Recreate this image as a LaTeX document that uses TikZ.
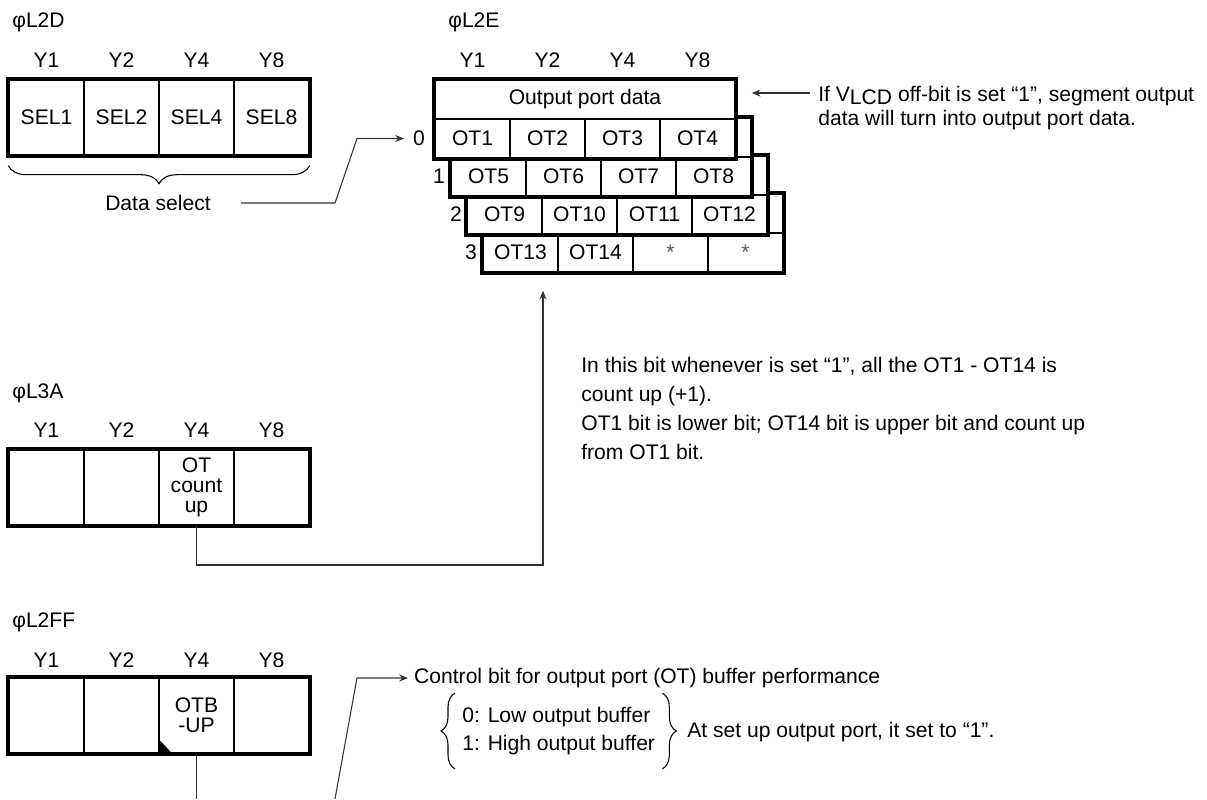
\documentclass[tikz,border=0pt]{standalone}
\usepackage{fontspec}
\setmainfont{Liberation Sans}
\usetikzlibrary{arrows.meta,decorations.pathreplacing}

\begin{document}
\begin{tikzpicture}[
  x=0.02cm,y=-0.02cm,
  >={Stealth[length=5pt,width=4pt]},
  font=\fontsize{12}{14}\selectfont,
  cell/.style={draw,line width=0.8pt,minimum width=1.5cm,minimum height=1.5cm,
    inner sep=0pt,align=center},
  otcell/.style={cell,fill=white,minimum height=0.78cm},
  toprow/.style={otcell,minimum width=6cm},
  frame/.style={line width=2.2pt},
  bitlab/.style={inner sep=0pt},
  regname/.style={anchor=west,inner sep=0pt},
  note/.style={anchor=north west,inner sep=0pt,align=left},
  star/.style={otcell,text=black!65},
  conn/.style={line width=0.6pt,black!80},
  brc/.style={decorate,decoration={brace,amplitude=#1},line width=0.6pt}]

  \useasboundingbox (0,0) rectangle (1207,799);

  % ---- phi L2D : data select ----
  \node[regname] (tld) at (12,22) {φL2D};
  \node[bitlab] (dy1) at (46.5,60) {Y1};
  \node[bitlab] (dy2) at (121.5,60) {Y2};
  \node[bitlab] (dy4) at (196.5,60) {Y4};
  \node[bitlab] (dy8) at (271.5,60) {Y8};
  \node[cell] (d1) at (46.5,117.5) {SEL1};
  \node[cell] (d2) at (121.5,117.5) {SEL2};
  \node[cell] (d3) at (196.5,117.5) {SEL4};
  \node[cell] (d4) at (271.5,117.5) {SEL8};
  \draw[frame] (d1.north west) rectangle (d4.south east);
  \draw[brc=0.36cm,decoration={mirror}] ([yshift=-0.2cm]d1.south west)
    -- ([yshift=-0.2cm]d4.south east);
  \node (dsel) at (158,203) {Data select};

  % ---- phi L2E : output port data, four layers ----
  \node[regname] (tle) at (448,22) {φL2E};
  \node[bitlab] (ey1) at (472.5,60) {Y1};
  \node[bitlab] (ey2) at (547.5,60) {Y2};
  \node[bitlab] (ey4) at (622.5,60) {Y4};
  \node[bitlab] (ey8) at (697.5,60) {Y8};
  % layer 3 (back)
  \node[toprow] (t3) at (633,213.5) {};
  \node[otcell] (ot13) at (520.5,252.5) {OT13};
  \node[otcell] (ot14) at (595.5,252.5) {OT14};
  \node[star] (ot15) at (670.5,252.5) {*};
  \node[star] (ot16) at (745.5,252.5) {*};
  \draw[frame] (t3.north west) rectangle (ot16.south east);
  \node (n3) at (471,252.5) {3};
  % layer 2
  \node[toprow] (t2) at (617,175.5) {};
  \node[otcell] (ot9) at (504.5,214.5) {OT9};
  \node[otcell] (ot10) at (579.5,214.5) {OT10};
  \node[otcell] (ot11) at (654.5,214.5) {OT11};
  \node[otcell] (ot12) at (729.5,214.5) {OT12};
  \draw[frame] (t2.north west) rectangle (ot12.south east);
  \node (n2) at (456,214.5) {2};
  % layer 1
  \node[toprow] (t1) at (601,137.5) {};
  \node[otcell] (ot5) at (488.5,176.5) {OT5};
  \node[otcell] (ot6) at (563.5,176.5) {OT6};
  \node[otcell] (ot7) at (638.5,176.5) {OT7};
  \node[otcell] (ot8) at (713.5,176.5) {OT8};
  \draw[frame] (t1.north west) rectangle (ot8.south east);
  \node (n1) at (439,176.5) {1};
  % layer 0 (front)
  \node[toprow] (opd) at (585,99.5) {Output port data};
  \node[otcell] (ot1) at (472.5,138.5) {OT1};
  \node[otcell] (ot2) at (547.5,138.5) {OT2};
  \node[otcell] (ot3) at (622.5,138.5) {OT3};
  \node[otcell] (ot4) at (697.5,138.5) {OT4};
  \draw[frame] (opd.north west) rectangle (ot4.south east);
  \node[inner sep=5pt] (n0) at (419,138.5) {0};

  % data select -> layer 0
  \coordinate (dsb) at (335,203);
  \coordinate (zb) at (357,138.5);
  \draw[conn,->] ([xshift=0.48cm]dsel.east) -- (dsb) -- (zb) -- (n0);

  % V_LCD note
  \node[note,font=\fontsize{12}{13.6}\selectfont] (vlcd) at (818,86)
    {If V\raisebox{-1.8pt}{LCD} off-bit is set “1”, segment output\\
     data will turn into output port data.};
  \coordinate (vt) at (810,93);
  \draw[conn,->] (vt) -- ([xshift=0.32cm]vt -| opd.east);

  % ---- phi L3A : OT count up ----
  \node[regname] (tla) at (12,393) {φL3A};
  \node[bitlab] (ay1) at (46.5,430) {Y1};
  \node[bitlab] (ay2) at (121.5,430) {Y2};
  \node[bitlab] (ay4) at (196.5,430) {Y4};
  \node[bitlab] (ay8) at (271.5,430) {Y8};
  \node[cell] (a1) at (46.5,487.5) {};
  \node[cell] (a2) at (121.5,487.5) {};
  \node[cell,font=\fontsize{12}{11.4}\selectfont] (a3) at (196.5,487.5) {OT\\count\\up};
  \node[cell] (a4) at (271.5,487.5) {};
  \draw[frame] (a1.north west) rectangle (a4.south east);

  \coordinate (cu) at (543,565);
  \draw[conn,->] (a3.south) |- (cu) -- ([yshift=-0.36cm]cu |- ot13.south);
  \node[note,font=\fontsize{12}{16.5}\selectfont] (cnote) at (581,357)
    {In this bit whenever is set “1”, all the OT1 - OT14 is\\
     count up (+1).\\
     OT1 bit is lower bit; OT14 bit is upper bit and count up\\
     from OT1 bit.};

  % ---- phi L2FF : OT buffer ----
  \node[regname] (tlf) at (12,622) {φL2FF};
  \node[bitlab] (fy1) at (46.5,660) {Y1};
  \node[bitlab] (fy2) at (121.5,660) {Y2};
  \node[bitlab] (fy4) at (196.5,660) {Y4};
  \node[bitlab] (fy8) at (271.5,660) {Y8};
  \node[cell] (f1) at (46.5,715.5) {};
  \node[cell] (f2) at (121.5,715.5) {};
  \node[cell,font=\fontsize{12}{11.4}\selectfont] (f3) at (196.5,715.5) {OTB\\-UP};
  \node[cell] (f4) at (271.5,715.5) {};
  \draw[frame] (f1.north west) rectangle (f4.south east);
  \fill (f3.south west) -- ++(0,-15) -- ++(14,15) -- cycle;

  \node[anchor=west] (ctrl) at (408,678)
    {Control bit for output port (OT) buffer performance};
  \coordinate (ffb) at (335,799);
  \coordinate (ffk) at (357,678);
  \draw[conn] (f3.south) -- (f3.south |- ffb);
  \draw[conn,->] (ffb) -- (ffk) -- (ctrl.west);

  \node[anchor=west,align=left,inner sep=4pt,minimum height=1.5cm,
    font=\fontsize{12}{16}\selectfont] (bufsel) at (455,731)
    {0: Low output buffer\\1: High output buffer};
  \draw[brc=0.28cm] (bufsel.south west) -- (bufsel.north west);
  \draw[brc=0.28cm] (bufsel.north east) -- (bufsel.south east);
  \node[anchor=west,inner sep=0pt] (atset) at (687,732)
    {At set up output port, it set to “1”.};
\end{tikzpicture}
\end{document}
